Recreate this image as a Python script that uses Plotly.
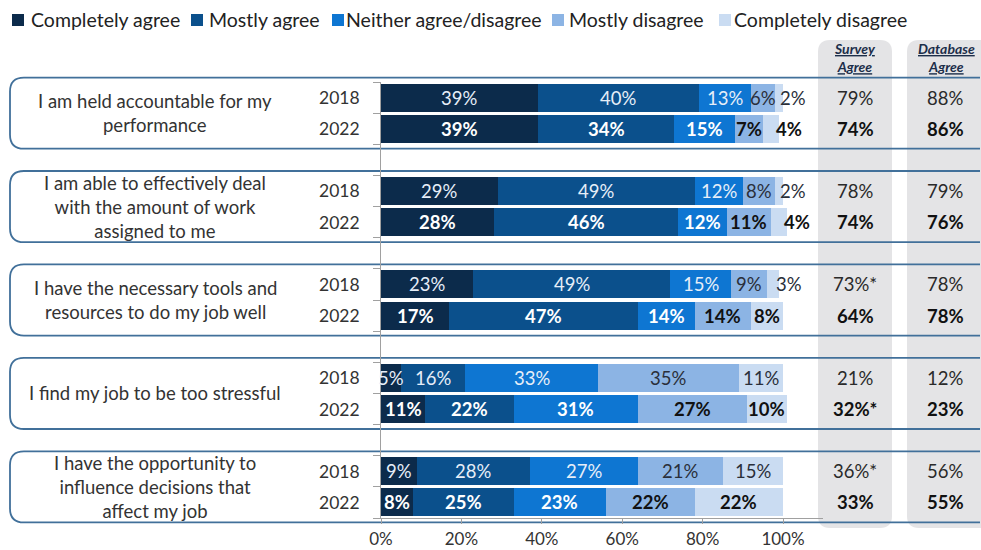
import plotly.graph_objects as go

W, H = 981, 550
FONT = "Lato"

questions = [
    "I am held accountable for my<br>performance",
    "I am able to effectively deal<br>with the amount of work<br>assigned to me",
    "I have the necessary tools and<br>resources to do my job well",
    "I find my job to be too stressful",
    "I have the opportunity to<br>influence decisions that<br>affect my job",
]
years = ["2018", "2022"]
categories = ["Completely agree", "Mostly agree", "Neither agree/disagree",
              "Mostly disagree", "Completely disagree"]
colors = ["#0c2b4b", "#0b508c", "#0e76d2", "#8cb4e4", "#cadcf2"]

# one value per bar, bars ordered Q1-2018, Q1-2022, Q2-2018, Q2-2022, ...
completely_agree = [39, 39, 29, 28, 23, 17, 5, 11, 9, 8]
mostly_agree = [40, 34, 49, 46, 49, 47, 16, 22, 28, 25]
neither = [13, 15, 12, 12, 15, 14, 33, 31, 27, 23]
mostly_disagree = [6, 7, 8, 11, 9, 14, 35, 27, 21, 22]
completely_disagree = [2, 4, 2, 4, 3, 8, 11, 10, 15, 22]
series = [completely_agree, mostly_agree, neither, mostly_disagree, completely_disagree]

survey_agree = ["79%", "74%", "78%", "74%", "73%*", "64%", "21%", "32%*", "36%*", "33%"]
database_agree = ["88%", "86%", "79%", "76%", "78%", "78%", "12%", "23%", "56%", "55%"]

x_ticks = [0, 20, 40, 60, 80, 100]
x_tick_labels = ["0%", "20%", "40%", "60%", "80%", "100%"]

# bar slots: two bars per question, one empty slot between questions
rows = [3 * g + k for g in range(len(questions)) for k in range(len(years))]
n_slots = rows[-1] + 1

# pixel geometry of the plotting area
X0, X1 = 381, 783          # 0% and 100%
X_MAX = 110                # axis runs a little past 100% so outside labels stay visible
Y_TOP, Y_BOT = 82, 518     # top and bottom of the category axis
ROW_H = (Y_BOT - Y_TOP) / n_slots
X_EDGE = W - 1             # frames run to the right edge of the page


def px(x):
    return x / W


def py(y):
    return 1 - y / H


def row_px(r):
    return Y_TOP + (r + 0.5) * ROW_H


def fmt(points):
    return " ".join(f"{px(a):.5f},{py(b):.5f}" for a, b in points)


def rounded(x0, y0, x1, y1, r):
    return (f"M{fmt([(x0 + r, y0)])} L{fmt([(x1 - r, y0)])} Q{fmt([(x1, y0), (x1, y0 + r)])} "
            f"L{fmt([(x1, y1 - r)])} Q{fmt([(x1, y1), (x1 - r, y1)])} L{fmt([(x0 + r, y1)])} "
            f"Q{fmt([(x0, y1), (x0, y1 - r)])} L{fmt([(x0, y0 + r)])} "
            f"Q{fmt([(x0, y0), (x0 + r, y0)])} Z")


def open_right(x0, y0, x1, y1, r, close=False):
    p = (f"M{fmt([(x1, y0)])} L{fmt([(x0 + r, y0)])} Q{fmt([(x0, y0), (x0, y0 + r)])} "
         f"L{fmt([(x0, y1 - r)])} Q{fmt([(x0, y1), (x0 + r, y1)])} L{fmt([(x1, y1)])}")
    return p + (" Z" if close else "")


fig = go.Figure()
for name, vals, col in zip(categories, series, colors):
    fig.add_trace(go.Bar(
        y=rows, x=vals, name=name, orientation="h",
        marker=dict(color=col, line=dict(width=0)),
        width=0.9, showlegend=False, hoverinfo="x+name",
    ))

shapes = []
annotations = []

# grey summary columns
shapes.append(dict(type="path", path=rounded(818, 40, 892, 528, 12),
                   xref="paper", yref="paper", fillcolor="#e4e4e6",
                   line=dict(width=0), layer="below"))
shapes.append(dict(type="path", path=open_right(907, 40, W, 528, 12, close=True),
                   xref="paper", yref="paper", fillcolor="#e4e4e6",
                   line=dict(width=0), layer="below"))

# rounded frames around each question, running off the right edge
for g in range(len(questions)):
    top = row_px(3 * g) - 20
    bot = row_px(3 * g + 1) + 20
    shapes.append(dict(type="path", path=open_right(10, top, X_EDGE, bot, 14),
                       xref="paper", yref="paper",
                       line=dict(color="#41709a", width=1.8), layer="below"))

# legend
leg_sq = [12, 191, 332, 552, 719]
leg_tx = [29, 207, 344, 567, 732]
for name, col, sx, tx in zip(categories, colors, leg_sq, leg_tx):
    shapes.append(dict(type="rect", xref="paper", yref="paper",
                       x0=px(sx), x1=px(sx + 12), y0=py(26), y1=py(14),
                       fillcolor=col, line=dict(width=0)))
    annotations.append(dict(text=name, x=px(tx), y=py(19.5), xref="paper", yref="paper",
                            xanchor="left", yanchor="middle", showarrow=False,
                            font=dict(family=FONT, size=19.5, color="#222222")))

# column headers
for cx, words in [(855, ("Survey", "Agree")), (946, ("Database", "Agree"))]:
    t = "<br>".join(f"<b><i><u>{w}</u></i></b>" for w in words)
    annotations.append(dict(text=t, x=px(cx), y=py(57), xref="paper", yref="paper",
                            xanchor="center", yanchor="middle", showarrow=False,
                            font=dict(family=FONT, size=14, color="#1c2e4a")))

# question texts
for g, q in enumerate(questions):
    annotations.append(dict(text=q, x=px(155), y=3 * g + 0.5, xref="paper", yref="y",
                            xanchor="center", yanchor="middle", showarrow=False,
                            font=dict(family=FONT, size=18.5, color="#333333")))

# year labels and summary values
for i, r in enumerate(rows):
    bold = (i % 2 == 1)
    annotations.append(dict(text=years[i % 2], x=px(362), y=r, xref="paper", yref="y",
                            xanchor="right", yanchor="middle", showarrow=False,
                            font=dict(family=FONT, size=17.5, color="#333333")))
    for cx, vals in [(855, survey_agree), (945, database_agree)]:
        t = f"<b>{vals[i]}</b>" if bold else vals[i]
        annotations.append(dict(text=t, x=px(cx), y=r, xref="paper", yref="y",
                                xanchor="center", yanchor="middle", showarrow=False,
                                font=dict(family=FONT, size=18.5,
                                          color="#111111" if bold else "#2a2a2a")))

# segment labels
for i, r in enumerate(rows):
    bold = (i % 2 == 1)
    start = 0
    for c, vals in enumerate(series):
        v = vals[i]
        mid = start + v / 2
        if c == len(series) - 1 and v < 5:
            mid = start + v + 2.5
        if c <= 2:
            tc = "#ffffff" if bold else "#e6eef8"
        else:
            tc = "#111111" if bold else "#2a2f3a"
        t = f"<b>{v}%</b>" if bold else f"{v}%"
        annotations.append(dict(text=t, x=mid, y=r, xref="x", yref="y",
                                xanchor="center", yanchor="middle", showarrow=False,
                                font=dict(family=FONT, size=18.5, color=tc)))
        start += v

fig.update_layout(
    width=W, height=H,
    margin=dict(l=0, r=0, t=0, b=0, autoexpand=False),
    paper_bgcolor="white", plot_bgcolor="rgba(0,0,0,0)",
    barmode="stack", bargap=0.1,
    showlegend=False,
    shapes=shapes, annotations=annotations,
    xaxis=dict(domain=[px(X0), px(X0 + (X1 - X0) * X_MAX / 100)], range=[0, X_MAX],
               automargin=False,
               tickmode="array", tickvals=x_ticks, ticktext=x_tick_labels,
               ticks="outside", ticklen=5, tickcolor="#a0a0a0", ticklabelstandoff=1,
               showline=True, linecolor="#a0a0a0", linewidth=1, showgrid=False,
               zeroline=False, tickfont=dict(family=FONT, size=17, color="#333333")),
    yaxis=dict(domain=[py(Y_BOT), py(Y_TOP)], range=[n_slots - 0.5, -0.5],
               automargin=False,
               tickvals=[k - 0.5 for k in range(n_slots + 1)], showticklabels=False,
               ticks="outside", ticklen=7, tickcolor="#a0a0a0",
               showline=True, linecolor="#a0a0a0", linewidth=1, showgrid=False,
               zeroline=False),
)

fig.write_html("out.html")
